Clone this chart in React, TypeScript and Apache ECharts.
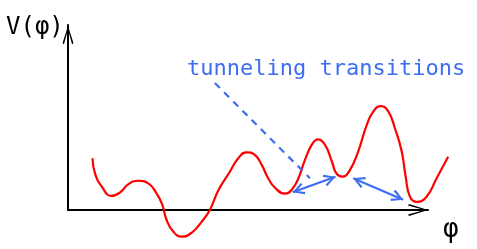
import React, { useEffect, useRef } from "react";
import * as echarts from "echarts";

// Potential curve V(φ): [φ, V]
const phiValues = [0.68, 0.75, 0.94, 1.21, 1.44, 1.68, 1.95, 2.23, 2.46, 2.62, 2.74, 2.93, 3.16, 3.44, 3.71, 3.94, 4.18, 4.5, 4.73, 4.96, 5.19, 5.38, 5.56, 5.75, 6.03, 6.21, 6.4, 6.58, 6.77, 6.94, 7.14, 7.33, 7.46, 7.62, 7.83, 8.06, 8.3, 8.48, 8.69, 8.9, 9.08, 9.27, 9.38, 9.5, 9.69, 9.96, 10.24, 10.56];
const vValues = [1.4, 0.99, 0.63, 0.38, 0.47, 0.7, 0.79, 0.72, 0.45, 0.14, -0.27, -0.59, -0.72, -0.61, -0.32, 0.0, 0.54, 1.04, 1.4, 1.56, 1.49, 1.22, 0.86, 0.6, 0.44, 0.54, 0.86, 1.35, 1.76, 1.91, 1.76, 1.31, 0.98, 0.9, 1.08, 1.58, 2.3, 2.66, 2.81, 2.66, 2.21, 1.58, 0.9, 0.36, 0.22, 0.36, 0.86, 1.44];

// Tunneling transition arrows: [[φ1, V1], [φ2, V2]]
const transitions = [
  [[6.24, 0.48], [7.43, 0.9]],
  [[7.92, 0.86], [9.31, 0.28]],
];
// Pointer from the annotation to the first transition
const pointerStart = [4.08, 3.43];
const pointerEnd = [6.72, 0.86];

const axisLabels = { y: "V(φ)", x: "φ" };
const annotation = "tunneling transitions";

const BLUE = "#3d6df2";
const RED = "#ff0000";
const FONT = '"DejaVu Sans Mono", monospace';

const bigChevron = "path://M6,0 L12,19 L10.4,20 L6,3.6 L1.6,20 L0,19 Z";
const smallChevron = "path://M5,0 L10,9 L8.4,10 L5,3.2 L1.6,10 L0,9 Z";

export default function App() {
  const ref = useRef<HTMLDivElement>(null);
  useEffect(() => {
    if (!ref.current) return;
    const chart = echarts.init(ref.current, null, { renderer: "svg" });
    const curve = phiValues.map((p, i) => [p, vValues[i]]);
    const hiddenAxis = {
      axisLine: { show: false },
      axisTick: { show: false },
      axisLabel: { show: false },
      splitLine: { show: false },
    };
    const arrowAxis = (w: number) => ({
      axisLine: {
        show: true,
        onZero: false,
        lineStyle: { color: "#000", width: 2 },
        symbol: ["none", bigChevron],
        symbolSize: [w, 20],
        symbolOffset: [0, -10],
      },
      axisTick: { show: false },
      axisLabel: { show: false },
      splitLine: { show: false },
    });
    chart.setOption({
      animation: false,
      grid: [
        // plotting grid (extends past the axis arrow so the curve can run on)
        { left: 68, top: 25, width: 385.2, height: 185, containLabel: false },
        // drawn axes
        { left: 68, top: 25, width: 360, height: 185, containLabel: false },
      ],
      xAxis: [
        { type: "value", gridIndex: 0, min: 0, max: 10.7, ...hiddenAxis },
        { type: "value", gridIndex: 1, min: 0, max: 10, ...arrowAxis(12) },
      ],
      yAxis: [
        { type: "value", gridIndex: 0, min: 0, max: 5, ...hiddenAxis },
        { type: "value", gridIndex: 1, min: 0, max: 5, ...arrowAxis(11) },
      ],
      series: [
        {
          type: "line",
          xAxisIndex: 0,
          yAxisIndex: 0,
          data: curve,
          smooth: 0.5,
          showSymbol: false,
          clip: false,
          lineStyle: { color: RED, width: 2.2 },
          markLine: {
            silent: true,
            animation: false,
            symbol: [smallChevron, smallChevron],
            symbolSize: [12, 12],
            symbolOffset: [[0, 6], [0, 6]],
            label: { show: false },
            lineStyle: { color: BLUE, width: 2.2, type: "solid" },
            emphasis: { disabled: true },
            data: transitions.map(([a, b]) => [{ coord: a }, { coord: b }]),
          },
        },
        {
          type: "line",
          xAxisIndex: 0,
          yAxisIndex: 0,
          data: [pointerStart, pointerEnd],
          showSymbol: false,
          clip: false,
          lineStyle: { color: BLUE, width: 2.2, type: [7, 6] },
        },
      ],
      graphic: [
        {
          type: "text",
          style: { text: axisLabels.y, x: 6, y: 26, font: `24px ${FONT}`, fill: "#000", textVerticalAlign: "middle" },
        },
        {
          type: "text",
          style: { text: axisLabels.x, x: 443, y: 228, font: `26px ${FONT}`, fill: "#000", textVerticalAlign: "middle" },
        },
        {
          type: "text",
          style: { text: annotation, x: 187, y: 67, font: `22px ${FONT}`, fill: BLUE, textVerticalAlign: "middle" },
        },
      ],
    });
    return () => chart.dispose();
  }, []);
  return (
    <div
      ref={ref}
      style={{ position: "fixed", left: 0, top: 0, width: 477, height: 249 }}
    />
  );
}
